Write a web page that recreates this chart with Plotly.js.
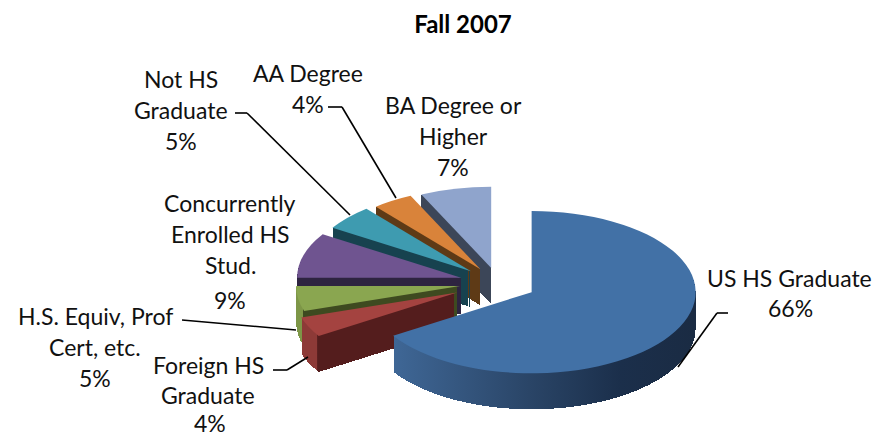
<!DOCTYPE html>
<html><head><meta charset="utf-8">
<script src="https://cdn.plot.ly/plotly-3.0.1.min.js"></script>
<style>html,body{margin:0;padding:0;background:#fff}</style></head>
<body><div id="chart" style="width:873px;height:438px"></div>
<script>
const categories = ["US HS Graduate","Foreign HS Graduate","H.S. Equiv, Prof Cert, etc.","Concurrently Enrolled HS Stud.","Not HS Graduate","AA Degree","BA Degree or Higher"];
const values = [66,4,5,9,5,4,7];
const topColors = ["#4271a6","#a44340","#8aa650","#6f5490","#3e9bb0","#d9833a","#8fa4cc"];
const sideColors = ["#2a4567","#541d1d","#3e4a20","#2e2440","#17424f","#5e3a16","#3c4658"];
const pulls = [0.234,0.275,0.234,0.234,0.22,0.2,0.19];
const CLEAR = "rgba(0,0,0,0)";
const W = 873, H = 438;
const CX = 498, CY = 283, R = 164, TILT = 0.495, DEPTH = 36;
const half = R * (1 + Math.max(...pulls));
const px = x => x / W, py = y => 1 - y / H;

function pieTrace(colors, name) {
  return {
    type: "pie", labels: categories, values: values, sort: false, direction: "clockwise", rotation: 0,
    pull: pulls, textinfo: "none", hoverinfo: "skip", showlegend: false, name: name,
    marker: { colors: colors, line: { width: 0 } },
    domain: { x: [px(CX - half), px(CX + half)], y: [(H / 2 - half) / H, (H / 2 + half) / H] }
  };
}
const data = [], offsets = [], kinds = [];
const others = sideColors.map((c, i) => i === 0 ? CLEAR : c);
const mainOnly = sideColors.map((c, i) => i === 0 ? c : CLEAR);
for (let d = DEPTH; d >= 1; d--) { data.push(pieTrace(others, "side")); offsets.push(d); kinds.push("others"); }
for (let d = DEPTH; d >= 1; d--) { data.push(pieTrace(mainOnly, "side")); offsets.push(d); kinds.push("main"); }
data.push(pieTrace(topColors, "Fall 2007")); offsets.push(0); kinds.push("top");

const labelLines = [
  [["US HS Graduate",789,278],["66%",790,308]],
  [["Foreign HS",208,365],["Graduate",208,395],["4%",210,423]],
  [["H.S. Equiv, Prof",95,316],["Cert, etc.",95,347],["5%",95,378]],
  [["Concurrently",230,203],["Enrolled HS",230,234],["Stud.",230,265],["9%",230,300]],
  [["Not HS",181,79],["Graduate",181,110],["5%",181,141]],
  [["AA Degree",308,73],["4%",308,104]],
  [["BA Degree or",453,105],["Higher",453,136],["7%",453,167]]
];
const leaders = [
  [[728,313],[717,313],[678,367]],
  [[273,370],[287,370],[308,357]],
  [[182,320],[296,330]],
  [],
  [[235,113],[247,113],[350,215]],
  [[328,107],[342,107],[396,198]],
  []
];
const annotations = [];
labelLines.forEach(group => group.forEach(([t, x, y]) => annotations.push({
  text: t, xref: "paper", yref: "paper", x: px(x), y: py(y), xanchor: "center", yanchor: "middle",
  showarrow: false, font: { family: "Lato, Carlito, sans-serif", size: 23, color: "#111" }
})));
const shapes = [];
leaders.forEach(pts => { for (let i = 0; i + 1 < pts.length; i++) shapes.push({
  type: "line", xref: "paper", yref: "paper", x0: px(pts[i][0]), y0: py(pts[i][1]), x1: px(pts[i+1][0]), y1: py(pts[i+1][1]),
  line: { color: "#000", width: 1.6 }, layer: "above"
}); });

const layout = {
  width: W, height: H, margin: { l: 0, r: 0, t: 0, b: 0 }, paper_bgcolor: "#fff", showlegend: false,
  title: { text: "<b>Fall 2007</b>", x: 463 / W, xanchor: "center", y: 1 - 25 / H, yanchor: "middle",
           font: { family: "Lato, Carlito, sans-serif", size: 24, color: "#000" } },
  annotations: annotations, shapes: shapes
};
Plotly.newPlot("chart", data, layout, { staticPlot: true, displayModeBar: false }).then(gd => {
  const svg = gd.querySelector(".main-svg");
  const NS = "http://www.w3.org/2000/svg";
  const defs = svg.querySelector("defs") || svg.insertBefore(document.createElementNS(NS, "defs"), svg.firstChild);
  function addGrad(id, stops) {
    const grad = document.createElementNS(NS, "linearGradient");
    grad.setAttribute("id", id);
    stops.forEach(([o, c]) => {
      const s = document.createElementNS(NS, "stop"); s.setAttribute("offset", o); s.setAttribute("stop-color", c); grad.appendChild(s);
    });
    defs.appendChild(grad);
  }
  addGrad("mainSideGrad", [["0", "#3f6796"], ["0.45", "#2a4567"], ["0.75", "#1b2f4b"], ["1", "#1a2b43"]]);
  addGrad("redSideGrad", [["0", "#8d3a37"], ["0.1", "#8d3a37"], ["0.105", "#541d1d"], ["1", "#541d1d"]]);
  addGrad("greenSideGrad", [["0", "#7d9647"], ["0.04", "#7d9647"], ["0.045", "#3e4a20"], ["1", "#3e4a20"]]);
  gd.querySelectorAll(".pielayer .trace").forEach((g, i) => {
    g.setAttribute("transform", `matrix(1,0,0,${TILT},0,${CY + offsets[i] - TILT * H / 2})`);
    const paths = g.querySelectorAll(".slice path");
    if (kinds[i] === "main" && paths[0]) paths[0].style.fill = "url(#mainSideGrad)";
    if (kinds[i] === "others") {
      if (paths[1]) paths[1].style.fill = "url(#redSideGrad)";
      if (paths[2]) paths[2].style.fill = "url(#greenSideGrad)";
    }
    if (kinds[i] !== "top") paths.forEach(p => p.style.shapeRendering = "crispEdges");
  });
});
</script></body></html>
